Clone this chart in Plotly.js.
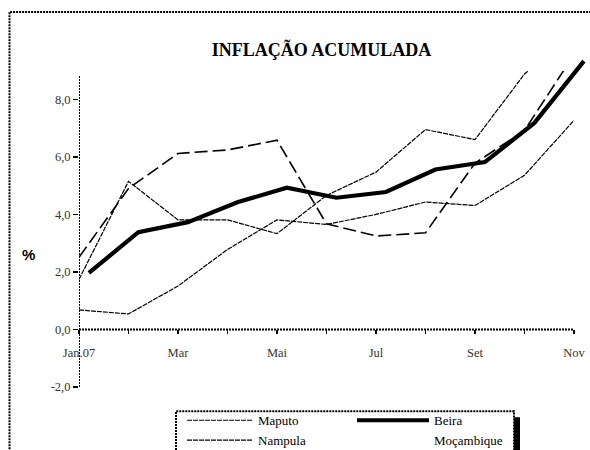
<!DOCTYPE html>
<html><head><meta charset="utf-8">
<script src="https://cdn.plot.ly/plotly-3.0.1.min.js"></script>
<style>html,body{margin:0;padding:0;background:#fff;overflow:hidden}#chart{width:590px;height:450px}</style>
</head><body><div id="chart"></div>
<script>
const months = ['Jan.07','Fev','Mar','Abr','Mai','Jun','Jul','Ago','Set','Out','Nov'];
const maputo = [1.74,5.15,3.81,3.81,3.33,4.66,5.47,6.95,6.60,8.88,10.3];
const nampula = [0.68,0.54,1.51,2.78,3.81,3.65,4.00,4.43,4.31,5.36,7.27];
const beira = [1.97,3.38,3.73,4.42,4.93,4.58,4.78,5.56,5.82,7.18,9.33];
const mocambique = [2.51,4.90,6.12,6.24,6.58,3.67,3.25,3.36,5.78,6.92,9.55];
const yTicks = [-2,0,2,4,6,8];
const yTickText = ['-2,0','0,0','2,0','4,0','6,0','8,0'];

const idx = months.map((m,i)=>i);
const xTickText = months.map((m,i)=> i%2===0 ? m : '');

// pixel geometry helpers (plot area: x 79..590, y 50..386.7)
const L=79, R=0, T=50, B=450-386.7, W=590-L-R, H=450-T-B;
const px = v => (v-L)/W;          // page x -> paper x
const py = v => (450-B-v)/H;      // page y -> paper y

const serif = 'Liberation Serif, Times New Roman, serif';
const thin = {color:'#000', width:1.2, dash:'5px,1px'};

const traces = [
  {x:idx, y:maputo, name:'Maputo', type:'scatter', mode:'lines', xaxis:'x', yaxis:'y', line:thin, legend:'legend', hoverinfo:'skip'},
  {x:idx, y:nampula, name:'Nampula', type:'scatter', mode:'lines', xaxis:'x', yaxis:'y', line:thin, legend:'legend', hoverinfo:'skip'},
  {x:idx, y:mocambique, name:'Moçambique', type:'scatter', mode:'lines', xaxis:'x', yaxis:'y', line:{color:'#000', width:1.6, dash:'13px,5px'}, showlegend:false, hoverinfo:'skip'},
  {x:idx, y:beira, name:'Beira', type:'scatter', mode:'lines', xaxis:'x2', yaxis:'y2', line:{color:'#000', width:4.2}, legend:'legend2', hoverinfo:'skip'},
  {x:[null], y:[null], name:'Moçambique', type:'scatter', mode:'lines', xaxis:'x', yaxis:'y', line:{color:'rgba(0,0,0,0)', width:0}, legend:'legend2', hoverinfo:'skip'}
];

const pxPerUnit = 495/ (months.length-1);
const yUnit = 28.74;
const yTop = -2 + (386.7-71)/yUnit;

const layout = {
  width:590, height:450,
  margin:{l:L, r:R, t:T, b:B, pad:0, autoexpand:false},
  paper_bgcolor:'#fff', plot_bgcolor:'rgba(0,0,0,0)',
  title:{text:'INFLAÇÃO ACUMULADA', x:321.5/590, xanchor:'center', y:1-49.5/450, yanchor:'middle',
         font:{family:serif, size:18, color:'#000', weight:'bold'}},
  xaxis:{domain:[0, 495/W], range:[0, months.length-1], anchor:'free', position:py(329.2),
         showline:false, zeroline:false, showgrid:false,
         tickmode:'array', tickvals:idx, ticktext:xTickText,
         ticks:'outside', ticklen:4, tickwidth:1.5, tickcolor:'#000',
         ticklabelstandoff:8,
         tickfont:{family:serif, size:12.5, color:'#333'}},
  yaxis:{domain:[0, py(71)], range:[-2, yTop], anchor:'x',
         showline:false, zeroline:false, showgrid:false,
         tickmode:'array', tickvals:yTicks, ticktext:yTickText,
         ticks:'outside', ticklen:5, tickwidth:1.5, tickcolor:'#000',
         tickfont:{family:serif, size:12.5, color:'#333'}},
  xaxis2:{domain:[0,1], range:[-0.2, -0.2 + W/pxPerUnit], anchor:'y2', visible:false},
  yaxis2:{domain:[0,1], range:[-2, -2 + H/yUnit], anchor:'x2', visible:false},
  showlegend:true,
  legend:{x:px(182), xanchor:'left', y:py(405), yanchor:'top', bgcolor:'rgba(0,0,0,0)', borderwidth:0,
          orientation:'v', itemwidth:66, tracegroupgap:0, itemclick:false, itemdoubleclick:false,
          font:{family:serif, size:13, color:'#000'}},
  legend2:{x:px(352), xanchor:'left', y:py(405), yanchor:'top', bgcolor:'rgba(0,0,0,0)', borderwidth:0,
          orientation:'v', itemwidth:72, tracegroupgap:0, itemclick:false, itemdoubleclick:false,
          font:{family:serif, size:13, color:'#000'}},
  annotations:[
    {text:'%', xref:'paper', yref:'paper', x:px(28.5), y:py(254), xanchor:'center', yanchor:'middle', showarrow:false,
     font:{family:'Liberation Sans, Arial, sans-serif', size:15, color:'#000', weight:'bold'}}
  ],
  shapes:[
    // outer chart frame
    {type:'rect', xref:'paper', yref:'paper', x0:px(9.5), x1:px(700), y0:py(700), y1:py(12), layer:'below',
     line:{color:'#000', width:2, dash:'2px,1px'}, fillcolor:'rgba(0,0,0,0)'},
    // axis lines
    {type:'line', xref:'x', yref:'y', x0:0, x1:months.length-1, y0:0, y1:0, layer:'below',
     line:{color:'#000', width:2, dash:'2px,1px'}},
    {type:'line', xref:'x', yref:'y', x0:0, x1:0, y0:yTicks[0], y1:8.83, layer:'below',
     line:{color:'#000', width:2, dash:'2px,1px'}},
    // legend shadow and box
    {type:'rect', xref:'paper', yref:'paper', x0:px(182), x1:px(520), y0:py(700), y1:py(417), layer:'above',
     line:{width:0}, fillcolor:'#000'},
    {type:'rect', xref:'paper', yref:'paper', x0:px(176), x1:px(514), y0:py(700), y1:py(411), layer:'above',
     line:{color:'#000', width:2, dash:'2px,1px'}, fillcolor:'#fff'}
  ]
};

Plotly.newPlot('chart', traces, layout, {displayModeBar:false, staticPlot:true});
</script>
</body></html>
